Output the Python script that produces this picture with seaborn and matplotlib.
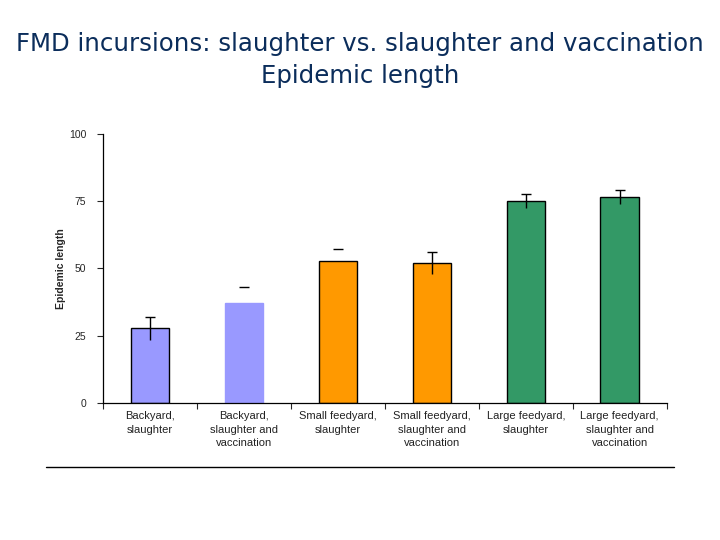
import matplotlib
matplotlib.use('Agg')
import matplotlib.pyplot as plt
import seaborn as sns
import pandas as pd
import numpy as np

# === Data ===
categories = ['Backyard,\nslaughter', 'Backyard,\nslaughter and\nvaccination',
              'Small feedyard,\nslaughter', 'Small feedyard,\nslaughter and\nvaccination',
              'Large feedyard,\nslaughter', 'Large feedyard,\nslaughter and\nvaccination']
epidemic_length = [27.8, 37.3, 52.7, 52.0, 75.1, 76.5]
error = [4.3, 5.7, 4.4, 4.0, 2.6, 2.6]
# on two bars only the cap of the error bar is visible
show_err_line = [True, False, False, True, True, True]
bar_colors = ['#9999FF', '#9999FF', '#FF9900', '#FF9900', '#339966', '#339966']
edge_colors = ['black', '#9999FF', 'black', 'black', 'black', 'black']
y_ticks = [0, 25, 50, 75, 100]

df = pd.DataFrame({'Group': categories, 'Length': epidemic_length})

sns.set_style('white')
plt.rcParams['font.family'] = ['Liberation Sans', 'DejaVu Sans']

fig = plt.figure(figsize=(7.2, 5.4), dpi=100)
ax = fig.add_axes([0.143, 0.254, 0.783, 0.498])

sns.barplot(x='Group', y='Length', data=df, hue='Group', palette=bar_colors,
            legend=False, width=0.41, ax=ax, saturation=1)
for patch, ec in zip(ax.patches, edge_colors):
    patch.set_edgecolor(ec)
    patch.set_linewidth(1.0)

# error bars (upper cap only, like the original)
xs = np.arange(len(categories))
for x, m, e, show in zip(xs, epidemic_length, error, show_err_line):
    if show:
        ax.vlines(x, m - e, m + e, color='black', lw=1.0, zorder=3)
    ax.hlines(m + e, x - 0.055, x + 0.055, color='black', lw=1.0, zorder=3)

ax.set_xlim(-0.5, len(categories) - 0.5)
ax.set_ylim(0, 100)
ax.set_yticks(y_ticks)
ax.set_yticklabels([str(t) for t in y_ticks], fontsize=7.5)
ax.set_xticks(xs)
ax.set_xticklabels(categories, fontsize=8, color='#222222', linespacing=1.45)
ax.tick_params(axis='x', length=0, pad=6)
ax.tick_params(axis='y', length=4, width=0.8, direction='out', left=True, pad=8)
# boundary ticks between categories
ax.set_xticks(np.arange(-0.5, len(categories) + 0.5), minor=True)
ax.tick_params(axis='x', which='minor', length=4, width=0.8, direction='out', bottom=True)

ax.set_xlabel('')
ax.set_ylabel('Epidemic length', fontsize=7.5, fontweight='bold', labelpad=2)

for side in ['top', 'right']:
    ax.spines[side].set_visible(False)
for side in ['left', 'bottom']:
    ax.spines[side].set_color('black')
    ax.spines[side].set_linewidth(0.9)

fig.text(0.5, 0.919, 'FMD incursions: slaughter vs. slaughter and vaccination',
         ha='center', va='center', fontsize=17.6, color='#0B2D5B', family='DejaVu Sans')
fig.text(0.5, 0.859, 'Epidemic length', ha='center', va='center',
         fontsize=17.6, color='#0B2D5B', family='DejaVu Sans')

# slide rule below chart
fig.add_artist(plt.Line2D([0.064, 0.936], [0.136, 0.136], color='black', lw=1.0))

fig.savefig('out.png', dpi=100)
